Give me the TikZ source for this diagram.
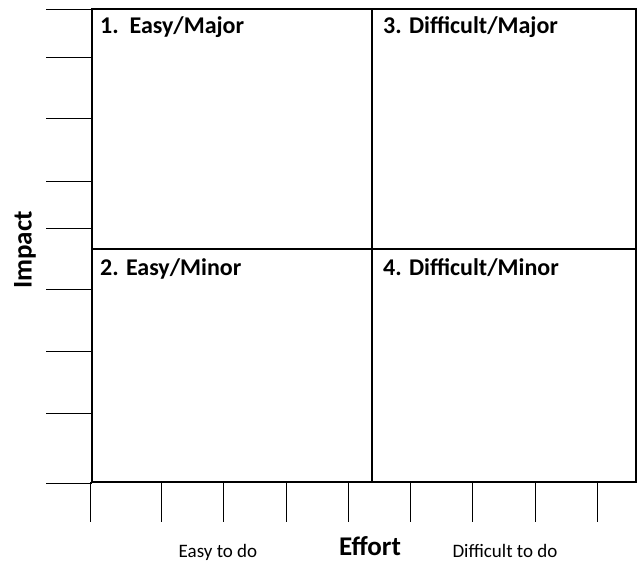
\documentclass[tikz,border=0pt]{standalone}
\usepackage{fontspec}
\setmainfont{Carlito}
\begin{document}
\begin{tikzpicture}[x=1pt,y=-1pt,
  quad/.style={draw=black,line width=1.6pt,inner sep=0pt,outer sep=0pt,anchor=north west},
  qlabel/.style={anchor=base west,font=\bfseries\fontsize{24}{28}\selectfont,inner sep=0pt},
  tick/.style={line width=1pt},
  axlabel/.style={font=\bfseries\fontsize{27}{31}\selectfont,inner sep=0pt},
  sublabel/.style={font=\fontsize{19}{22}\selectfont,inner sep=0pt,anchor=base}]
\useasboundingbox (0,0) rectangle (641,562);
% quadrants
\node[quad,minimum width=280pt,minimum height=240pt] (q1) at (92,9) {};
\node[quad,minimum width=264pt,minimum height=240pt] (q3) at (372,9) {};
\node[quad,minimum width=280pt,minimum height=233pt] (q2) at (92,249) {};
\node[quad,minimum width=264pt,minimum height=233pt] (q4) at (372,249) {};
% labels
\node[qlabel] (l1) at (100,33) {1.\ \ Easy/Major};
\node[qlabel] (l3) at (383,33) {3. Difficult/Major};
\node[qlabel] (l2) at (100,275) {2. Easy/Minor};
\node[qlabel] (l4) at (383,275) {4. Difficult/Minor};
% left ticks
\foreach \y in {9,57,118,181,228,289,351,413,483}
  \draw[tick] (46,\y) -- (92,\y);
% bottom ticks
\foreach \x in {90,161,223,286,348,410,472,535,597}
  \draw[tick] (\x,482) -- (\x,522);
% axis labels
\node[axlabel,rotate=90] (impact) at (25,250) {Impact};
\node[axlabel,anchor=base] (effort) at (370,555) {Effort};
\node[sublabel] (easy) at (218,557) {Easy to do};
\node[sublabel] (diff) at (505,557) {Difficult to do};
\end{tikzpicture}
\end{document}
